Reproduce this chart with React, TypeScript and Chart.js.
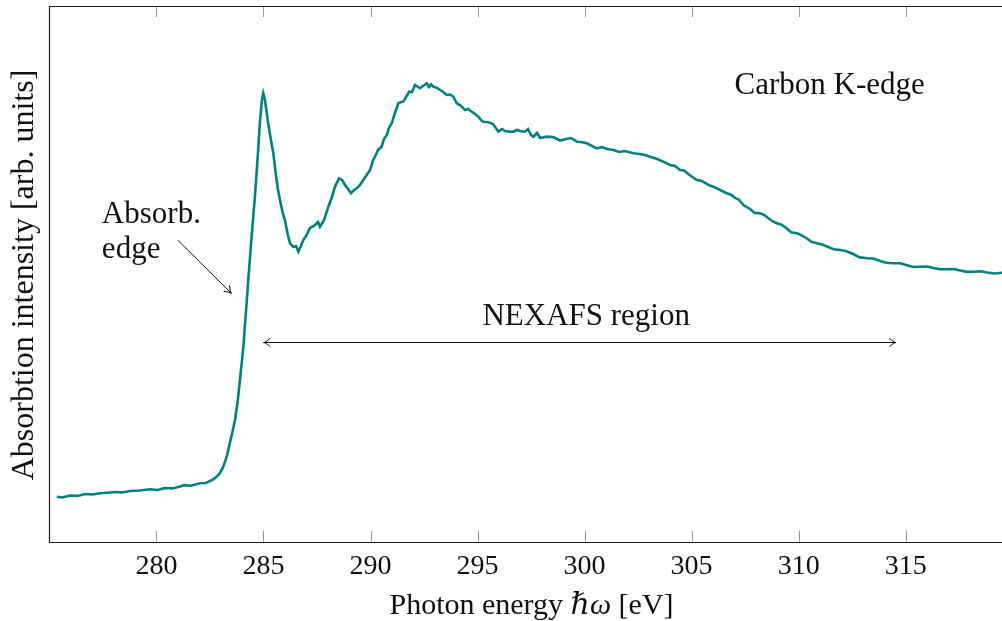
import React, { useEffect, useRef } from "react";
import { Chart, registerables } from "chart.js";

Chart.register(...registerables);

// ---- data (photon energy in eV, absorption intensity in arb. units) ----
const energy: number[] = [
  275.34, 275.6, 275.96, 276.3, 276.66, 277.0, 277.36, 277.7, 278.06, 278.4,
  278.76, 279.2, 279.7, 280.05, 280.4, 280.75, 281.1, 281.3, 281.6, 282.03,
  282.3, 282.5, 282.65, 282.81, 282.97, 283.12, 283.28, 283.43, 283.57, 283.67,
  283.79, 283.9, 284.06, 284.17, 284.29, 284.44, 284.6, 284.72, 284.84, 284.93,
  284.99, 285.07, 285.22, 285.35, 285.46, 285.58, 285.68, 285.77, 285.89, 286.0,
  286.14, 286.24, 286.39, 286.52, 286.63, 286.75, 286.86, 286.99, 287.17, 287.41,
  287.55, 287.64, 287.83, 288.03, 288.2, 288.34, 288.53, 288.67, 288.81, 288.95,
  289.09, 289.23, 289.36, 289.51, 289.66, 289.79, 289.98, 290.12, 290.21, 290.35,
  290.52, 290.63, 290.76, 290.86, 290.99, 291.14, 291.3, 291.43, 291.53, 291.66,
  291.81, 291.94, 292.08, 292.22, 292.31, 292.45, 292.63, 292.73, 292.83, 292.93,
  293.11, 293.25, 293.39, 293.56, 293.71, 293.87, 294.03, 294.18, 294.42, 294.56,
  294.73, 294.88, 295.04, 295.16, 295.27, 295.44, 295.58, 295.72, 295.82, 295.97,
  296.14, 296.29, 296.52, 296.67, 296.85, 296.99, 297.22, 297.36, 297.5, 297.61,
  297.78, 297.92, 298.23, 298.53, 298.86, 299.14, 299.37, 299.64, 299.84, 300.1,
  300.26, 300.57, 300.82, 301.05, 301.35, 301.61, 301.89, 302.28, 302.59, 302.83,
  303.06, 303.39, 303.68, 303.99, 304.23, 304.46, 304.65, 304.84, 305.24, 305.45,
  305.63, 305.85, 306.02, 306.33, 306.64, 306.85, 307.03, 307.2, 307.42, 307.73,
  307.95, 308.2, 308.4, 308.57, 308.8, 308.98, 309.2, 309.42, 309.65, 309.92,
  310.1, 310.35, 310.6, 310.85, 311.1, 311.38, 311.65, 311.94, 312.2, 312.55,
  312.85, 313.19, 313.5, 313.81, 314.1, 314.43, 314.75, 315.02, 315.35, 315.67,
  316.0, 316.29, 316.6, 316.93, 317.25, 317.55, 317.85, 318.17, 318.5, 318.81,
  319.15, 319.51,
];

const intensity: number[] = [
  8.45, 8.3, 8.68, 8.6, 8.96, 8.85, 9.09, 9.2, 9.33, 9.25,
  9.51, 9.6, 9.83, 9.7, 10.07, 10.0, 10.35, 10.6, 10.5, 10.95,
  11.0, 11.38, 11.7, 12.18, 12.87, 14.05, 15.86, 18.47, 20.9, 22.76,
  26.1, 30.22, 36.44, 42.35, 48.88, 56.72, 64.42, 71.27, 78.73, 82.46,
  83.71, 82.46, 78.12, 74.94, 72.52, 68.47, 65.67, 63.81, 61.57, 60.07,
  57.28, 55.73, 55.09, 55.22, 54.16, 55.22, 56.34, 57.09, 58.58, 59.14,
  59.7, 58.82, 60.07, 62.56, 64.37, 66.29, 67.85, 67.54, 66.6, 65.86,
  65.06, 65.67, 65.99, 66.6, 67.54, 68.28, 69.4, 71.27, 71.88, 73.13,
  73.75, 75.19, 75.93, 77.24, 78.12, 80.04, 81.85, 82.09, 82.15, 83.02,
  84.01, 83.96, 85.26, 84.89, 84.65, 85.07, 85.58, 84.89, 85.35, 84.94,
  84.7, 84.33, 83.96, 83.4, 83.49, 83.08, 81.85, 81.53, 80.6, 80.78,
  80.28, 79.85, 79.35, 78.73, 78.41, 78.36, 78.23, 77.99, 77.43, 76.55,
  77.05, 76.68, 76.55, 76.55, 76.87, 76.68, 76.55, 77.05, 75.93, 75.62,
  76.31, 75.37, 75.62, 75.56, 74.9, 75.19, 75.37, 74.68, 74.63, 74.38,
  74.07, 73.45, 73.69, 73.32, 73.13, 72.76, 72.95, 72.52, 72.39, 72.2,
  71.88, 71.46, 70.95, 70.34, 70.15, 69.4, 69.3, 68.66, 67.54, 67.4,
  66.98, 66.5, 66.29, 65.67, 65.06, 64.8, 64.18, 63.9, 62.87, 62.13,
  61.4, 61.33, 61.0, 60.45, 59.8, 59.46, 59.2, 58.58, 57.8, 57.59,
  57.3, 56.72, 56.0, 55.73, 55.5, 55.04, 54.6, 54.48, 54.3, 53.73,
  53.1, 52.93, 52.9, 52.43, 52.1, 52.0, 52.0, 51.68, 51.3, 51.36,
  51.4, 51.12, 50.9, 50.88, 50.9, 50.65, 50.4, 50.43, 50.5, 50.28,
  50.1, 50.24,
];

const xTickValues: number[] = [280, 285, 290, 295, 300, 305, 310, 315];
const xMin = 274.98;
const xMax = 319.5;
const yMin = 0;
const yMax = 100;

const xTitleParts: string[] = ["Photon energy ", "\u210F\u03C9", " [eV]"];
const yTitle = "Absorbtion intensity [arb. units]";
const edgeLabel: string[] = ["Absorb.", "edge"];
const edgeArrow: number[][] = [[281.0, 56.3], [283.5, 46.4]];
const regionLabel = "NEXAFS region";
const regionArrow: number[] = [285, 314.55, 37.3];
const kEdgeLabel = "Carbon K-edge";

const FONT = '"Liberation Serif", "DejaVu Serif", serif';
const LINE_COLOR = "rgb(0,128,128)";

function arrowHead(ctx: CanvasRenderingContext2D, x: number, y: number, ang: number) {
  const L = 8;
  const a = 0.55;
  ctx.beginPath();
  ctx.moveTo(x - L * Math.cos(ang - a), y - L * Math.sin(ang - a));
  ctx.quadraticCurveTo(x - 2 * Math.cos(ang), y - 2 * Math.sin(ang), x, y);
  ctx.quadraticCurveTo(x - 2 * Math.cos(ang), y - 2 * Math.sin(ang), x - L * Math.cos(ang + a), y - L * Math.sin(ang + a));
  ctx.stroke();
}

const decorPlugin = {
  id: "decor",
  afterDatasetsDraw(chart: any) {
    const { ctx, chartArea: ca, scales } = chart;
    const xs = scales.x;
    const ys = scales.y;
    ctx.save();
    // inward ticks on bottom and top
    ctx.strokeStyle = "#9a9a9a";
    ctx.lineWidth = 1;
    for (const t of xs.ticks) {
      const px = Math.round(xs.getPixelForValue(t.value)) + 0.5;
      ctx.beginPath();
      ctx.moveTo(px, ca.bottom);
      ctx.lineTo(px, ca.bottom - 11);
      ctx.moveTo(px, ca.top);
      ctx.lineTo(px, ca.top + 11);
      ctx.stroke();
    }
    // frame: left, top and bottom lines (the right side lies past the page edge)
    ctx.strokeStyle = "#222";
    ctx.lineWidth = 1.2;
    const endX = chart.width;
    ctx.beginPath();
    ctx.moveTo(ca.left + 0.5, ca.top + 0.5);
    ctx.lineTo(endX, ca.top + 0.5);
    ctx.stroke();
    ctx.beginPath();
    ctx.moveTo(ca.left + 0.5, ca.bottom + 0.5);
    ctx.lineTo(endX, ca.bottom + 0.5);
    ctx.stroke();
    ctx.beginPath();
    ctx.moveTo(ca.left + 0.5, ca.top);
    ctx.lineTo(ca.left + 0.5, ca.bottom + 1);
    ctx.stroke();

    // texts
    ctx.fillStyle = "#111";
    ctx.font = `31px ${FONT}`;
    ctx.textBaseline = "alphabetic";
    ctx.textAlign = "left";
    const ex = xs.getPixelForValue(277.45);
    ctx.fillText(edgeLabel[0], ex, ys.getPixelForValue(59.5));
    ctx.fillText(edgeLabel[1], ex, ys.getPixelForValue(53.0));
    ctx.textAlign = "center";
    ctx.fillText(kEdgeLabel, xs.getPixelForValue(311.45), ys.getPixelForValue(83.6));
    ctx.fillText(regionLabel, xs.getPixelForValue((regionArrow[0] + regionArrow[1]) / 2 + 0.3), ys.getPixelForValue(40.5));

    // arrows
    ctx.strokeStyle = "#111";
    ctx.lineWidth = 1;
    const ax0 = xs.getPixelForValue(edgeArrow[0][0]);
    const ay0 = ys.getPixelForValue(edgeArrow[0][1]);
    const ax1 = xs.getPixelForValue(edgeArrow[1][0]);
    const ay1 = ys.getPixelForValue(edgeArrow[1][1]);
    ctx.beginPath();
    ctx.moveTo(ax0, ay0);
    ctx.lineTo(ax1, ay1);
    ctx.stroke();
    arrowHead(ctx, ax1, ay1, Math.atan2(ay1 - ay0, ax1 - ax0));
    const rx0 = xs.getPixelForValue(regionArrow[0]);
    const rx1 = xs.getPixelForValue(regionArrow[1]);
    const ry = Math.round(ys.getPixelForValue(regionArrow[2])) + 0.5;
    ctx.beginPath();
    ctx.moveTo(rx0, ry);
    ctx.lineTo(rx1, ry);
    ctx.stroke();
    arrowHead(ctx, rx1, ry, 0);
    arrowHead(ctx, rx0, ry, Math.PI);

    // x axis title
    ctx.textAlign = "left";
    const normal = `30px ${FONT}`;
    const italic = `italic 30px ${FONT}`;
    ctx.font = normal;
    const w0 = ctx.measureText(xTitleParts[0]).width;
    ctx.font = italic;
    const w1 = ctx.measureText(xTitleParts[1]).width;
    ctx.font = normal;
    const w2 = ctx.measureText(xTitleParts[2]).width;
    let tx = 531.5 - (w0 + w1 + w2) / 2;
    const ty = 614;
    ctx.fillText(xTitleParts[0], tx, ty);
    tx += w0;
    ctx.font = italic;
    ctx.fillText(xTitleParts[1], tx, ty);
    tx += w1;
    ctx.font = normal;
    ctx.fillText(xTitleParts[2], tx, ty);

    // y axis title
    ctx.font = `32px ${FONT}`;
    ctx.textAlign = "center";
    ctx.translate(33, 275);
    ctx.rotate(-Math.PI / 2);
    ctx.fillText(yTitle, 0, 0);
    ctx.restore();
  },
  afterDraw(chart: any) {
    // keep the right page edge open (no closing frame line), then restore the curve end there
    const { ctx, chartArea: ca } = chart;
    const x0 = chart.width - 5;
    const y0 = ca.top + 1.6;
    const h = ca.bottom - 0.6 - y0;
    ctx.save();
    ctx.fillStyle = "#fff";
    ctx.fillRect(x0, y0, chart.width - x0, h);
    ctx.beginPath();
    ctx.rect(x0, y0, chart.width - x0, h);
    ctx.clip();
    const meta = chart.getDatasetMeta(0);
    if (meta && meta.dataset) meta.dataset.draw(ctx, chart.chartArea);
    ctx.restore();
  },
};

export default function App() {
  const canvasRef = useRef<HTMLCanvasElement | null>(null);

  useEffect(() => {
    document.body.style.margin = "0";
    document.body.style.overflow = "hidden";
    const canvas = canvasRef.current;
    if (!canvas) return;
    const chart = new Chart(canvas, {
      type: "line",
      data: {
        datasets: [
          {
            data: energy.map((e, i) => ({ x: e, y: intensity[i] })),
            borderColor: LINE_COLOR,
            borderWidth: 2.6,
            pointRadius: 0,
            tension: 0,
            fill: false,
          },
        ],
      },
      options: {
        animation: false,
        responsive: false,
        devicePixelRatio: 1,
        layout: { padding: { left: 49, top: 6, right: 0, bottom: 0 } },
        plugins: { legend: { display: false }, tooltip: { enabled: false } },
        scales: {
          x: {
            type: "linear",
            min: xMin,
            max: xMax,
            grid: { display: false, drawTicks: false },
            border: { display: false },
            ticks: {
              color: "#111",
              font: { family: FONT, size: 28 },
              padding: 8,
              maxRotation: 0,
              autoSkip: false,
            },
            afterBuildTicks: (s: any) => {
              s.ticks = xTickValues.map((v) => ({ value: v }));
            },
            afterFit: (s: any) => {
              s.height = 79;
            },
          },
          y: { display: false, min: yMin, max: yMax },
        },
      },
      plugins: [decorPlugin],
    } as any);
    return () => chart.destroy();
  }, []);

  return (
    <div style={{ position: "fixed", left: 0, top: 0, width: 1002, height: 621, overflow: "hidden", background: "#fff" }}>
      <canvas ref={canvasRef} width={1002} height={621} style={{ display: "block", width: 1002, height: 621 }} />
    </div>
  );
}
